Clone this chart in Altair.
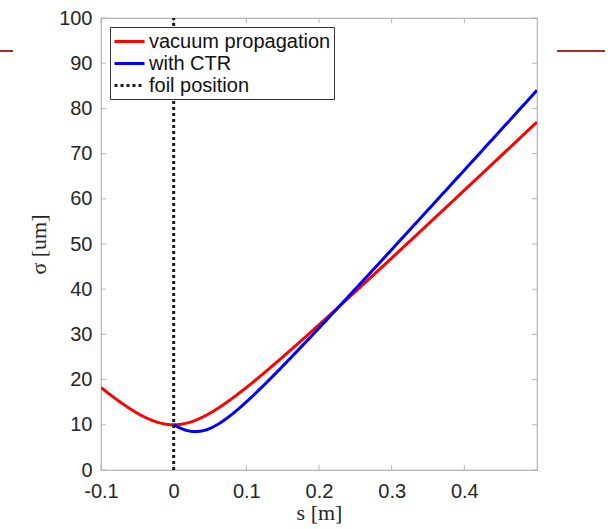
import altair as alt
import pandas as pd

# ---- data ----
series_names = ["vacuum propagation", "with CTR", "foil position"]
series_colors = ["#ff0000", "#0000ff", "#1a1a1a"]

s_vac = [-0.10, -0.08, -0.06, -0.04, -0.02, 0.00, 0.02, 0.04, 0.06, 0.08, 0.10,
         0.12, 0.14, 0.16, 0.18, 0.20, 0.22, 0.24, 0.26, 0.28, 0.30, 0.32,
         0.34, 0.36, 0.38, 0.40, 0.42, 0.44, 0.46, 0.48, 0.50]
sig_vac = [18.25, 15.79, 13.56, 11.72, 10.46, 10.00, 10.46, 11.72, 13.56, 15.79, 18.25,
           20.87, 23.60, 26.40, 29.24, 32.13, 35.04, 37.98, 40.94, 43.90, 46.88, 49.87,
           52.86, 55.87, 58.87, 61.89, 64.90, 67.92, 70.94, 73.97, 76.99]

s_ctr = [0.00, 0.01, 0.02, 0.03, 0.04, 0.05, 0.06, 0.08, 0.10, 0.12, 0.14, 0.16,
         0.18, 0.20, 0.22, 0.24, 0.26, 0.28, 0.30, 0.32, 0.34, 0.36, 0.38, 0.40,
         0.42, 0.44, 0.46, 0.48, 0.50]
sig_ctr = [10.03, 9.21, 8.68, 8.50, 8.68, 9.21, 10.04, 12.30, 15.07, 18.12, 21.33, 24.63,
           28.00, 31.40, 34.84, 38.30, 41.78, 45.26, 48.76, 52.27, 55.78, 59.30, 62.82, 66.34,
           69.87, 73.41, 76.94, 80.48, 84.01]

s_foil = [0.0, 0.0]
sig_foil = [0.0, 100.0]

x_ticks = [-0.1, 0.0, 0.1, 0.2, 0.3, 0.4]
y_ticks = [0, 10, 20, 30, 40, 50, 60, 70, 80, 90, 100]

# ---- tables ----
df = pd.concat([
    pd.DataFrame({"s": s_vac, "sigma": sig_vac, "series": series_names[0], "k": range(len(s_vac))}),
    pd.DataFrame({"s": s_ctr, "sigma": sig_ctr, "series": series_names[1], "k": range(len(s_ctr))}),
    pd.DataFrame({"s": s_foil, "sigma": sig_foil, "series": series_names[2], "k": range(len(s_foil))}),
], ignore_index=True)

W, H = 436, 452
GRAY = "#b4b4b4"
SANS = "Liberation Sans"
SERIF = "Liberation Serif"

xscale = alt.Scale(domain=[-0.1, 0.5], nice=False, zero=False)
yscale = alt.Scale(domain=[0, 100], nice=False)

x_label_expr = ("datum.value < -0.001 ? '-' + format(-datum.value, '.1f') : "
                "(abs(datum.value) < 0.001 ? '0' : format(datum.value, '.1f'))")

legend_kw = dict(title=None, orient="none", legendX=9, legendY=9,
                 symbolType="M-1,0H2", symbolSize=400,
                 symbolStrokeWidth=2.6, labelFont=SANS,
                 labelFontSize=20, labelColor="#111111", labelLimit=400,
                 labelOffset=13, rowPadding=0, padding=3,
                 strokeColor="#333333", fillColor="white")

lines = alt.Chart(df).mark_line(clip=True, interpolate="monotone").encode(
    x=alt.X("s:Q", scale=xscale,
            axis=alt.Axis(values=x_ticks, labelExpr=x_label_expr, title="s [m]",
                          grid=False, domain=False, ticks=False, labelFlush=False,
                          labelFont=SANS, labelFontSize=20, labelColor="#262626",
                          labelPadding=11, titleFont=SERIF, titleFontSize=22,
                          titleFontWeight="normal", titleColor="#262626", titlePadding=1)),
    y=alt.Y("sigma:Q", scale=yscale,
            axis=alt.Axis(values=y_ticks, format="d", title="σ [um]",
                          grid=False, domain=False, ticks=False, labelFlush=False,
                          labelFont=SANS, labelFontSize=20, labelColor="#262626",
                          labelPadding=9, titleFont=SERIF, titleFontSize=22,
                          titleFontWeight="normal", titleColor="#262626", titlePadding=8)),
    color=alt.Color("series:N", scale=alt.Scale(domain=series_names, range=series_colors),
                    legend=alt.Legend(**legend_kw)),
    strokeDash=alt.StrokeDash("series:N",
                              scale=alt.Scale(domain=series_names,
                                              range=[[1, 0], [1, 0], [3, 3]]),
                              legend=alt.Legend(**legend_kw)),
    strokeWidth=alt.StrokeWidth("series:N",
                                scale=alt.Scale(domain=series_names, range=[3, 3, 2]),
                                legend=None),
    order="k:Q",
)

# inward ticks (MATLAB style) on all four sides
xt = pd.DataFrame({"s": x_ticks})
yt = pd.DataFrame({"sigma": y_ticks})
tick_len = 5
xt_bottom = alt.Chart(xt).mark_rule(color=GRAY, strokeWidth=1).encode(
    x=alt.X("s:Q", scale=xscale), y=alt.value(H), y2=alt.value(H - tick_len))
xt_top = alt.Chart(xt).mark_rule(color=GRAY, strokeWidth=1).encode(
    x=alt.X("s:Q", scale=xscale), y=alt.value(0), y2=alt.value(tick_len))
yt_left = alt.Chart(yt).mark_rule(color=GRAY, strokeWidth=1).encode(
    y=alt.Y("sigma:Q", scale=yscale), x=alt.value(0), x2=alt.value(tick_len))
yt_right = alt.Chart(yt).mark_rule(color=GRAY, strokeWidth=1).encode(
    y=alt.Y("sigma:Q", scale=yscale), x=alt.value(W), x2=alt.value(W - tick_len))

# slide decoration lines outside the plot
deco = pd.DataFrame({"a": [0]})
deco_left = alt.Chart(deco).mark_rule(color="#a8282c", strokeWidth=2).encode(
    x=alt.value(-101), x2=alt.value(-88), y=alt.value(33))
deco_right = alt.Chart(deco).mark_rule(color="#a8282c", strokeWidth=2).encode(
    x=alt.value(456), x2=alt.value(504), y=alt.value(33))

chart = alt.layer(
    xt_bottom, xt_top, yt_left, yt_right, lines, deco_left, deco_right
).resolve_scale(x="shared", y="shared").properties(
    width=W, height=H,
    autosize=alt.AutoSizeParams(type="none"),
    padding={"left": 101, "top": 18, "right": 73, "bottom": 59},
    background="white",
).configure_view(stroke=GRAY, strokeWidth=1.2)

chart.save("out.html", embed_options={"renderer": "svg", "actions": False})
